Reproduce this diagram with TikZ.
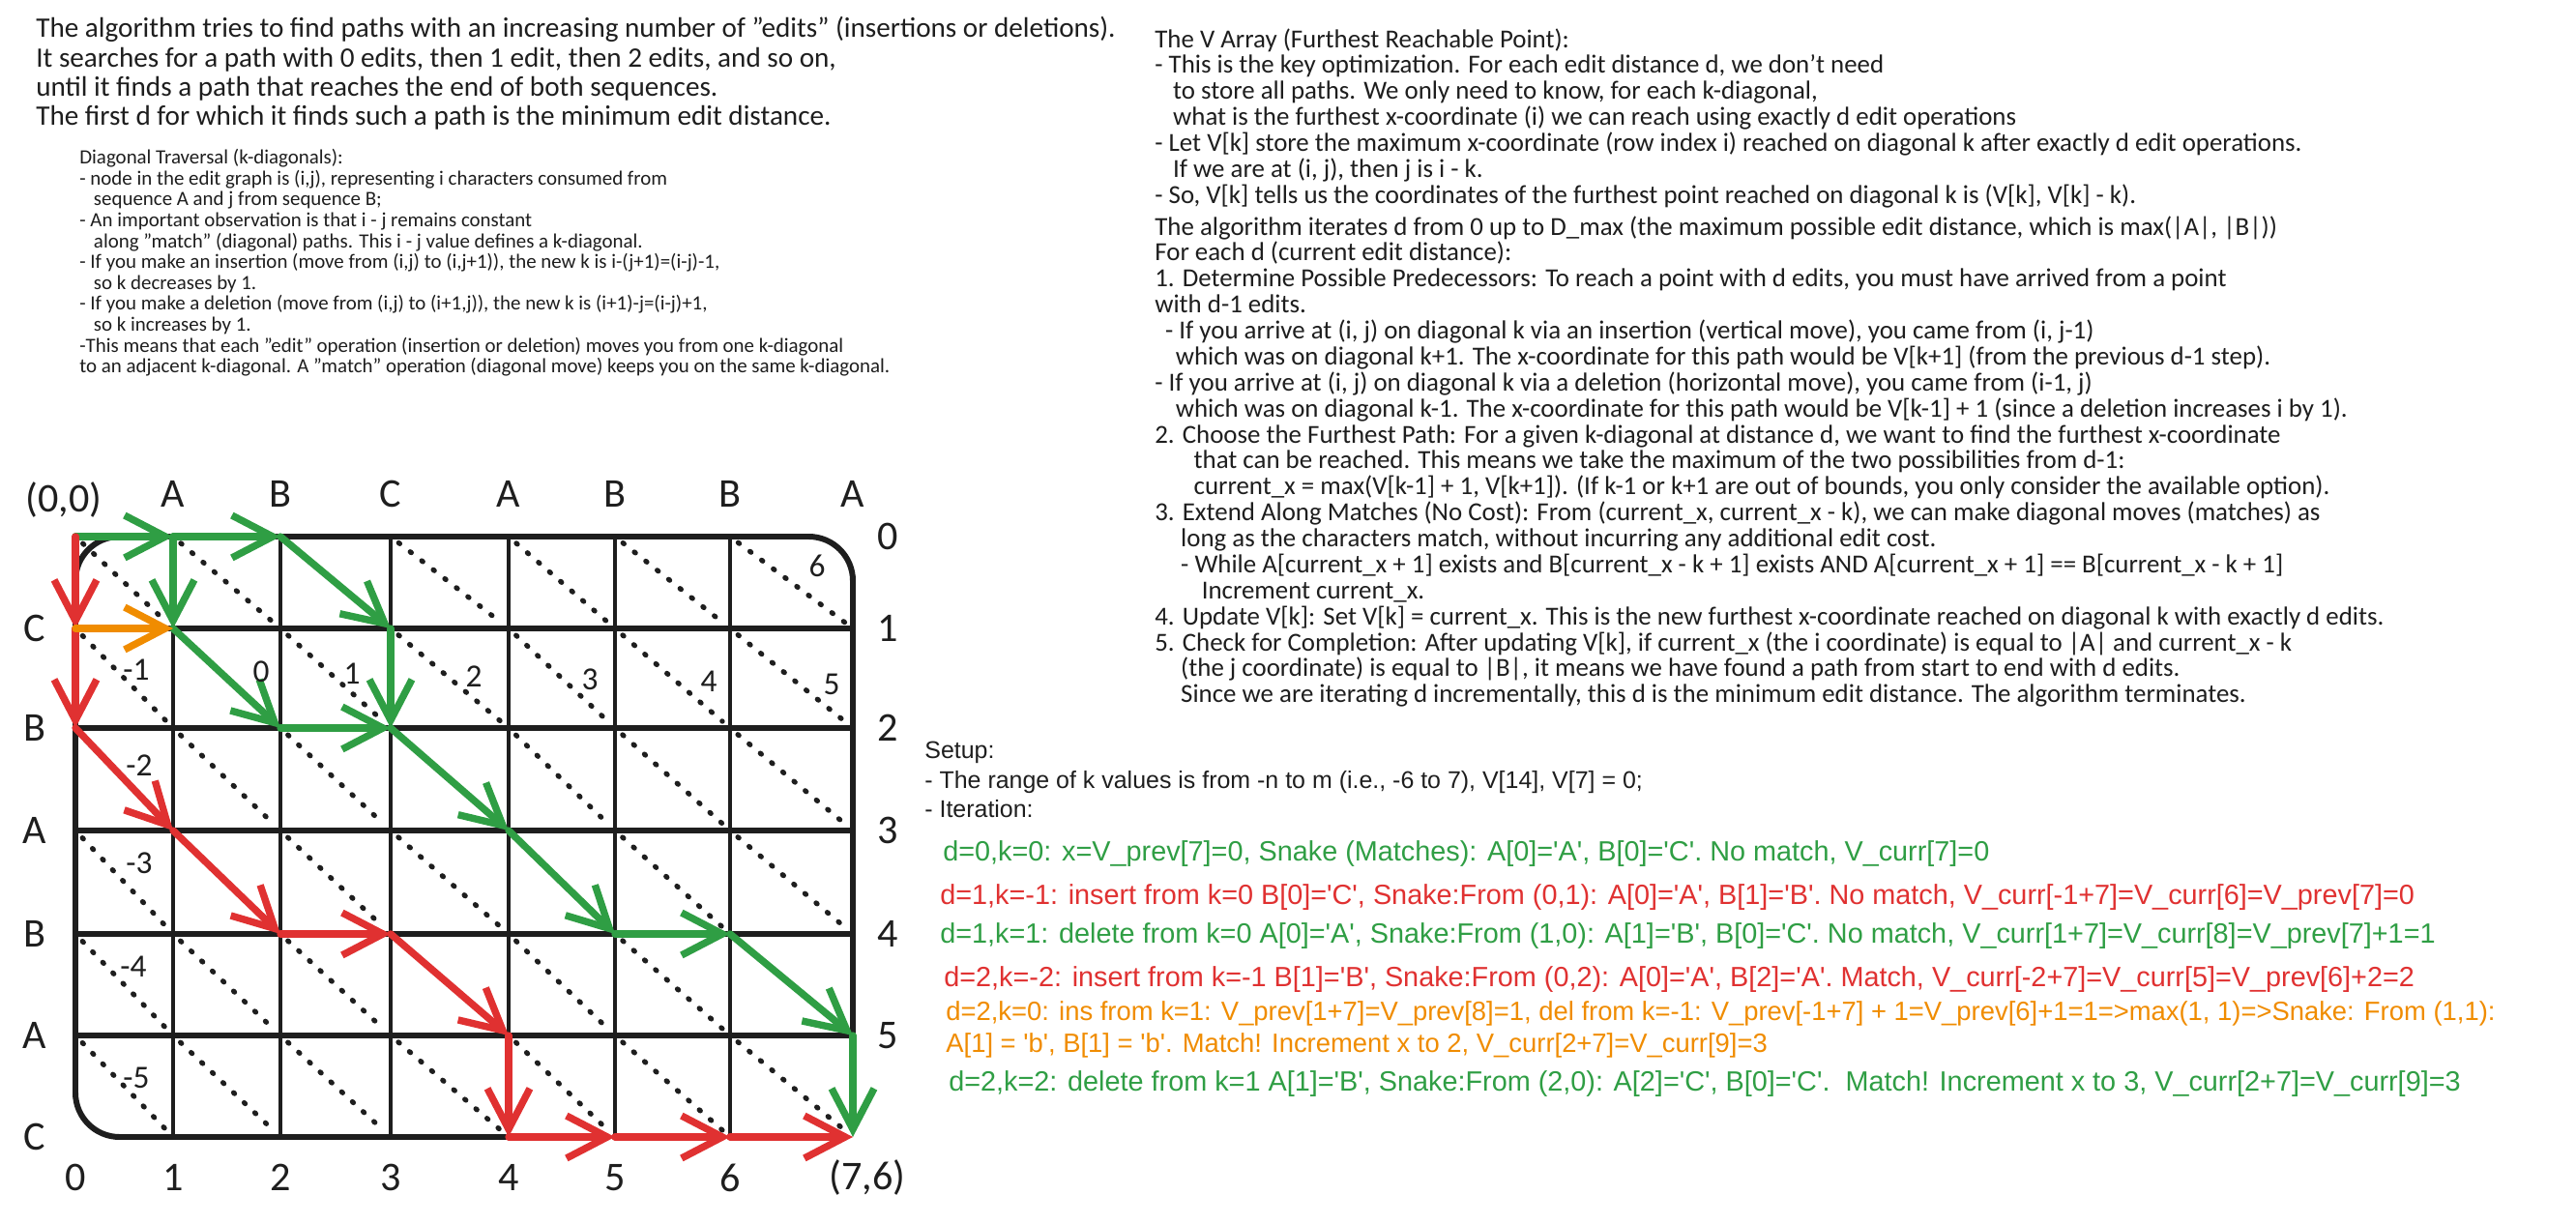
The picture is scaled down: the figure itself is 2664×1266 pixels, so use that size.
\documentclass[tikz,border=0pt]{standalone}
\usepackage{fontspec}
\setmainfont{Carlito}
\newfontfamily\notefont[Ligatures=TeXOff]{Liberation Sans}
\usetikzlibrary{arrows.meta}
\definecolor{ink}{HTML}{1E1E1E}
\definecolor{okgreen}{HTML}{2F9E44}
\definecolor{badred}{HTML}{E03131}
\definecolor{midorange}{HTML}{F08C00}

\begin{document}
\begin{tikzpicture}[x=0.02cm, y=-0.02cm,
	gline/.style={line width=2.6pt, draw=ink},
	hline/.style={line width=3.4pt, draw=ink},
	kdiag/.style={line width=3pt, draw=ink, dash pattern=on 0.8pt off 7.8pt, line cap=round, shorten <=6pt, shorten >=6pt},
	editarrow/.style={line width=4.2pt, line cap=round, -{Straight Barb[length=24pt, width=25pt]}},
	lab/.style={font=\fontsize{24}{24}\selectfont, text=ink, inner sep=0pt},
	klab/.style={font=\fontsize{19}{19}\selectfont, text=ink, inner sep=0pt},
	textblock/.style={anchor=north west, align=left, inner sep=0pt, text=ink},
	iterline/.style={anchor=west, inner sep=0pt, font=\notefont\fontsize{16.4}{20}\selectfont, text height=13pt, text depth=4pt}]

	\fill[white] (0,0) rectangle (2664,1266);
	\useasboundingbox (0,0) rectangle (2664,1266);

	\foreach \i/\x in {0/78,1/179,2/290,3/404,4/526,5/636,6/755,7/882}
		\foreach \j/\y in {0/555,1/650,2/753,3/859,4/966,5/1071,6/1176}
			\coordinate (v\i\j) at (\x,\y);

	\foreach \i in {0,...,6}
		\foreach \j in {0,...,5} {
			\pgfmathtruncatemacro\ia{\i+1}
			\pgfmathtruncatemacro\ja{\j+1}
			\draw[kdiag] (v\i\j) -- (v\ia\ja);
		}

	\foreach \j in {1,...,5} \draw[hline] (v0\j) -- (v7\j);
	\foreach \i in {1,...,6} \draw[gline] (v\i0) -- (v\i6);
	\draw[hline, rounded corners=26pt] (v46) -- (v06) -- (v00) -- (v70) -- (v75);

	\foreach \a/\b in {00/10,10/20,10/11,20/31,11/22,31/32,22/32,32/43,43/54,54/64,64/75,75/76}
		\draw[editarrow, draw=okgreen] (v\a) -- (v\b);
	\foreach \a/\b in {00/01,01/02,02/13,13/24,24/34,34/45,45/46,46/56,56/66,66/76}
		\draw[editarrow, draw=badred] (v\a) -- (v\b);
	\draw[editarrow, draw=midorange] (v01) -- (v11);

	\foreach \c [count=\i] in {A,B,C,A,B,B,A}
		\path (v\i0) ++(0,-44) node[lab] (top\i) {\c};
	\foreach \c [count=\j] in {C,B,A,B,A,C}
		\path (v0\j) ++(-42,0) node[lab] (left\j) {\c};
	\foreach \j in {0,...,5}
		\path (v7\j) ++(36,0) node[lab] (right\j) {\j};
	\foreach \i in {0,...,6}
		\path (v\i6) ++(0,42) node[lab] (bottom\i) {\i};
	\path (v00) ++(-12,-38) node[lab] (startpt) {(0,0)};
	\path (v76) ++(15,42) node[lab] (endpt) {(7,6)};

	\foreach \k/\x/\y [count=\n] in {-1/141/693,0/270/695,1/364/697,2/490/700,3/610/703,4/733/705,5/860/708,6/845/585,-2/144/792,-3/144/893,-4/138/1000,-5/141/1115}
		\path (\x,\y) node[klab] (kd\n) {\k};

	\draw (37,17) node[textblock, font={\fontsize{16.6}{17.3}\selectfont\lineskiplimit=-20pt}] (intro) {The algorithm tries to find paths with an increasing number of "edits" (insertions or deletions).\\
It searches for a path with 0 edits, then 1 edit, then 2 edits, and so on,\\
until it finds a path that reaches the end of both sequences.\\
The first d for which it finds such a path is the minimum edit distance.};

	\draw (82,154) node[textblock, font={\fontsize{11.9}{12.3}\selectfont\lineskiplimit=-20pt}] (diagtext) {Diagonal Traversal (k-diagonals):\\
- node in the edit graph is (i,j), representing i characters consumed from\\
\hspace*{0.7em}sequence A and j from sequence B;\\
- An important observation is that i - j remains constant\\
\hspace*{0.7em}along "match" (diagonal) paths. This i - j value defines a k-diagonal.\\
- If you make an insertion (move from (i,j) to (i,j+1)), the new k is i-(j+1)=(i-j)-1,\\
\hspace*{0.7em}so k decreases by 1.\\
- If you make a deletion (move from (i,j) to (i+1,j)), the new k is (i+1)-j=(i-j)+1,\\
\hspace*{0.7em}so k increases by 1.\\
-This means that each "edit" operation (insertion or deletion) moves you from one k-diagonal\\
to an adjacent k-diagonal. A "match" operation (diagonal move) keeps you on the same k-diagonal.};

	\draw (1194,29) node[textblock, font={\fontsize{15.3}{15.3}\selectfont\lineskiplimit=-20pt}] (varray) {The V Array (Furthest Reachable Point):\\
- This is the key optimization. For each edit distance d, we don't need\\
\hspace*{0.7em}to store all paths. We only need to know, for each k-diagonal,\\
\hspace*{0.7em}what is the furthest x-coordinate (i) we can reach using exactly d edit operations\\
- Let V[k] store the maximum x-coordinate (row index i) reached on diagonal k after exactly d edit operations.\\
\hspace*{0.7em}If we are at (i, j), then j is i - k.\\
- So, V[k] tells us the coordinates of the furthest point reached on diagonal k is (V[k], V[k] - k).};

	\draw (1194,223) node[textblock, font={\fontsize{15.3}{15.3}\selectfont\lineskiplimit=-20pt}] (steps) {The algorithm iterates d from 0 up to D\_max (the maximum possible edit distance, which is max(|A|, |B|))\\
For each d (current edit distance):\\
1. Determine Possible Predecessors: To reach a point with d edits, you must have arrived from a point\\
with d-1 edits.\\
\hspace*{0.4em}- If you arrive at (i, j) on diagonal k via an insertion (vertical move), you came from (i, j-1)\\
\hspace*{0.8em}which was on diagonal k+1. The x-coordinate for this path would be V[k+1] (from the previous d-1 step).\\
- If you arrive at (i, j) on diagonal k via a deletion (horizontal move), you came from (i-1, j)\\
\hspace*{0.8em}which was on diagonal k-1. The x-coordinate for this path would be V[k-1] + 1 (since a deletion increases i by 1).\\
2. Choose the Furthest Path: For a given k-diagonal at distance d, we want to find the furthest x-coordinate\\
\hspace*{1.5em}that can be reached. This means we take the maximum of the two possibilities from d-1:\\
\hspace*{1.5em}current\_x = max(V[k-1] + 1, V[k+1]). (If k-1 or k+1 are out of bounds, you only consider the available option).\\
3. Extend Along Matches (No Cost): From (current\_x, current\_x - k), we can make diagonal moves (matches) as\\
\hspace*{1em}long as the characters match, without incurring any additional edit cost.\\
\hspace*{1em}- While A[current\_x + 1] exists and B[current\_x - k + 1] exists AND A[current\_x + 1] == B[current\_x - k + 1]\\
\hspace*{1.8em}Increment current\_x.\\
4. Update V[k]: Set V[k] = current\_x. This is the new furthest x-coordinate reached on diagonal k with exactly d edits.\\
5. Check for Completion: After updating V[k], if current\_x (the i coordinate) is equal to |A| and current\_x - k\\
\hspace*{1em}(the j coordinate) is equal to |B|, it means we have found a path from start to end with d edits.\\
\hspace*{1em}Since we are iterating d incrementally, this d is the minimum edit distance. The algorithm terminates.};

	\draw (956,767) node[textblock, font={\notefont\fontsize{14.2}{17.3}\selectfont}] (setup) {Setup:\\
- The range of k values is from -n to m (i.e., -6 to 7), V[14], V[7] = 0;\\
- Iteration:};

	\draw (975,883) node[iterline, text=okgreen] (d0k0) {d=0,k=0: x=V\_prev[7]=0, Snake (Matches): A[0]='A', B[0]='C'. No match, V\_curr[7]=0};
	\draw (972,928) node[iterline, text=badred] (d1km1) {d=1,k=-1: insert from k=0 B[0]='C', Snake:From (0,1): A[0]='A', B[1]='B'. No match, V\_curr[-1+7]=V\_curr[6]=V\_prev[7]=0};
	\draw (972,968) node[iterline, text=okgreen] (d1k1) {d=1,k=1: delete from k=0 A[0]='A', Snake:From (1,0): A[1]='B', B[0]='C'. No match, V\_curr[1+7]=V\_curr[8]=V\_prev[7]+1=1};
	\draw (976,1013) node[iterline, text=badred] (d2km2) {d=2,k=-2: insert from k=-1 B[1]='B', Snake:From (0,2): A[0]='A', B[2]='A'. Match, V\_curr[-2+7]=V\_curr[5]=V\_prev[6]+2=2};
	\draw (978,1048) node[iterline, text=midorange, font=\notefont\fontsize{15.6}{20}\selectfont] (d2k0) {d=2,k=0: ins from k=1: V\_prev[1+7]=V\_prev[8]=1, del from k=-1: V\_prev[-1+7] + 1=V\_prev[6]+1=1=>max(1, 1)=>Snake: From (1,1):};
	\draw (978,1081) node[iterline, text=midorange, font=\notefont\fontsize{15.6}{20}\selectfont] (d2k0b) {A[1] = 'b', B[1] = 'b'. Match! Increment x to 2, V\_curr[2+7]=V\_curr[9]=3};
	\draw (981,1121) node[iterline, text=okgreen] (d2k2) {d=2,k=2: delete from k=1 A[1]='B', Snake:From (2,0): A[2]='C', B[0]='C'.~ Match! Increment x to 3, V\_curr[2+7]=V\_curr[9]=3};
\end{tikzpicture}
\end{document}
